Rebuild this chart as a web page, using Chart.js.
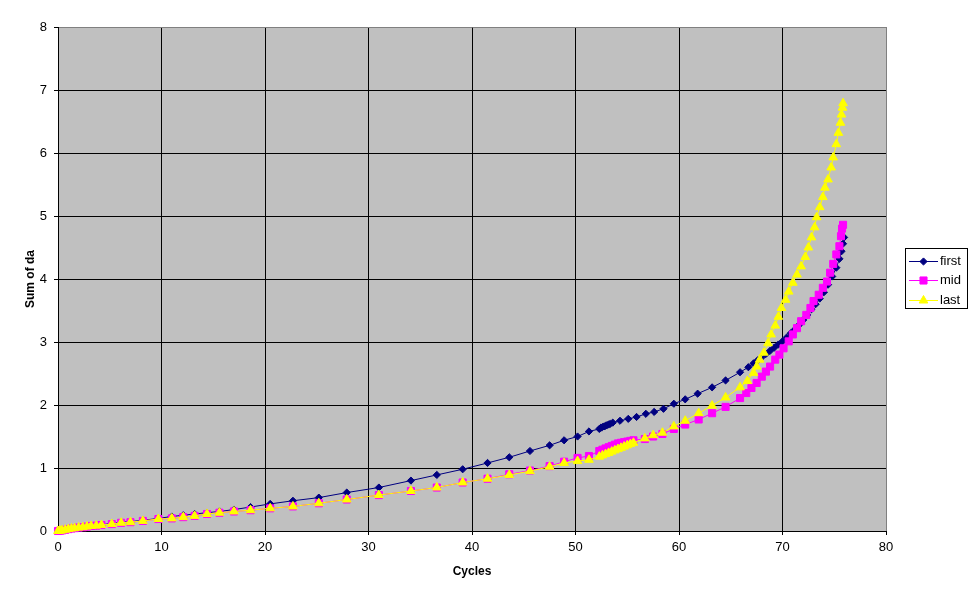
<!DOCTYPE html>
<html>
<head>
<meta charset="utf-8">
<script src="https://cdn.jsdelivr.net/npm/chart.js@4/dist/chart.umd.min.js"></script>
<style>
  html, body { margin: 0; padding: 0; background: #fff; }
</style>
</head>
<body>
<canvas id="chart" width="977" height="600"></canvas>
<script>
// axis setup
const xMax = 80, xStep = 10;
const yMax = 8, yStep = 1;
const seriesNames = ["first", "mid", "last"];

// first (navy diamonds)
const firstCycles = [0, 0.2, 0.4, 0.7, 1.0, 1.3, 1.6, 2.0, 2.4, 2.8, 3.2, 3.7, 4.2, 5.2, 6.1, 7.0, 8.2, 9.7,
  11.0, 12.1, 13.2, 14.4, 15.6, 17.0, 18.6, 20.5, 22.7, 25.2, 27.9, 31.0, 34.1, 36.6, 39.1, 41.5, 43.6,
  45.6, 47.5, 48.9, 50.2, 51.3, 52.3, 52.45, 52.6, 52.75, 52.9, 53.05, 53.2, 53.35, 53.6, 54.3, 55.1,
  55.9, 56.8, 57.6, 58.5, 59.5, 60.6, 61.8, 63.2, 64.5, 65.9, 66.7, 67.2, 67.6, 68.0, 68.4, 68.8, 69.2,
  69.6, 70.0, 70.4, 70.8, 71.2, 71.6, 72.0, 72.4, 72.8, 73.2, 73.6, 74.0, 74.4, 74.8, 75.2, 75.5, 75.7,
  75.85, 75.95];
const firstDa = [0, 0.005, 0.01, 0.02, 0.03, 0.035, 0.04, 0.05, 0.06, 0.07, 0.08, 0.09, 0.10, 0.12, 0.14, 0.15, 0.17, 0.20,
  0.23, 0.25, 0.27, 0.29, 0.31, 0.34, 0.38, 0.43, 0.48, 0.53, 0.61, 0.69, 0.80, 0.89, 0.98, 1.08, 1.17,
  1.27, 1.36, 1.44, 1.50, 1.58, 1.62, 1.64, 1.65, 1.66, 1.67, 1.68, 1.69, 1.70, 1.72, 1.75, 1.78,
  1.81, 1.86, 1.89, 1.94, 2.02, 2.09, 2.18, 2.28, 2.39, 2.52, 2.60, 2.66, 2.71, 2.76, 2.81, 2.86, 2.91,
  2.96, 3.01, 3.07, 3.14, 3.20, 3.27, 3.35, 3.43, 3.52, 3.60, 3.69, 3.79, 3.91, 4.04, 4.18, 4.32, 4.44,
  4.56, 4.66];

// mid (magenta squares)
const midCycles = [0, 0.2, 0.4, 0.7, 1.0, 1.3, 1.6, 2.0, 2.4, 2.8, 3.2, 3.7, 4.2, 5.2, 6.1, 7.0, 8.2, 9.7,
  11.0, 12.1, 13.2, 14.4, 15.6, 17.0, 18.6, 20.5, 22.7, 25.2, 27.9, 31.0, 34.1, 36.6, 39.1, 41.5, 43.6,
  45.6, 47.5, 48.9, 50.2, 51.3, 52.3, 52.6, 52.9, 53.2, 53.5, 53.8, 54.1, 54.4, 54.7, 55.0, 55.3, 55.6,
  56.7, 57.5, 58.4, 59.5, 60.6, 61.9, 63.2, 64.5, 65.9, 66.5, 67.0, 67.5, 68.0, 68.4, 68.8, 69.3, 69.7,
  70.1, 70.6, 71.0, 71.4, 71.8, 72.3, 72.7, 73.0, 73.5, 73.9, 74.3, 74.6, 74.9, 75.2, 75.5, 75.65, 75.75,
  75.85];
const midDa = [0, 0.005, 0.01, 0.02, 0.03, 0.04, 0.045, 0.055, 0.06, 0.07, 0.08, 0.085, 0.095, 0.11, 0.13, 0.14, 0.16, 0.19,
  0.20, 0.22, 0.24, 0.27, 0.29, 0.31, 0.33, 0.36, 0.39, 0.44, 0.50, 0.57, 0.635, 0.69, 0.77, 0.83, 0.90,
  0.96, 1.03, 1.10, 1.16, 1.19, 1.27, 1.29, 1.31, 1.33, 1.35, 1.37, 1.39, 1.40, 1.41, 1.42, 1.43, 1.44,
  1.46, 1.50, 1.54, 1.62, 1.69, 1.77, 1.87, 1.97, 2.11, 2.19, 2.27, 2.35, 2.45, 2.53, 2.61, 2.72, 2.80,
  2.90, 3.01, 3.12, 3.22, 3.33, 3.43, 3.54, 3.65, 3.75, 3.86, 3.96, 4.10, 4.24, 4.39, 4.52, 4.68, 4.80,
  4.86];

// last (yellow triangles)
const lastCycles = [0, 0.2, 0.4, 0.7, 1.0, 1.3, 1.6, 2.0, 2.4, 2.8, 3.2, 3.7, 4.2, 5.2, 6.1, 7.0, 8.2, 9.7,
  11.0, 12.1, 13.2, 14.4, 15.6, 17.0, 18.6, 20.5, 22.7, 25.2, 27.9, 31.0, 34.1, 36.6, 39.1, 41.5, 43.6,
  45.6, 47.5, 48.9, 50.2, 51.3, 52.3, 52.6, 52.9, 53.2, 53.5, 53.8, 54.1, 54.4, 54.7, 55.0, 55.3, 55.6,
  56.7, 57.5, 58.4, 59.5, 60.6, 61.9, 63.2, 64.5, 65.9, 66.6, 67.2, 67.5, 67.8, 68.2, 68.6, 68.9, 69.3,
  69.6, 69.9, 70.3, 70.6, 71.0, 71.4, 71.8, 72.2, 72.5, 72.8, 73.1, 73.3, 73.6, 73.9, 74.1, 74.4, 74.7,
  74.9, 75.2, 75.4, 75.6, 75.7, 75.8, 75.85];
const lastDa = [0, 0.005, 0.01, 0.02, 0.03, 0.04, 0.045, 0.055, 0.06, 0.07, 0.08, 0.085, 0.095, 0.11, 0.13, 0.14, 0.16, 0.19,
  0.20, 0.22, 0.24, 0.27, 0.29, 0.31, 0.33, 0.36, 0.39, 0.44, 0.50, 0.57, 0.635, 0.69, 0.77, 0.83, 0.89,
  0.95, 1.02, 1.08, 1.11, 1.13, 1.18, 1.20, 1.22, 1.24, 1.26, 1.28, 1.30, 1.32, 1.34, 1.36, 1.38, 1.40,
  1.47, 1.52, 1.56, 1.66, 1.75, 1.87, 1.99, 2.12, 2.28, 2.38, 2.51, 2.61, 2.72, 2.83, 2.98, 3.12, 3.26,
  3.40, 3.54, 3.67, 3.80, 3.94, 4.07, 4.20, 4.35, 4.50, 4.66, 4.82, 4.98, 5.14, 5.30, 5.45, 5.58, 5.77,
  5.93, 6.14, 6.32, 6.48, 6.61, 6.72, 6.79];

const FONT = "'Liberation Sans', Arial, sans-serif";
const toPoints = (xs, ys) => xs.map((x, i) => ({ x: x, y: ys[i] }));

function series(label, xs, ys, color, style, radius, order) {
  return {
    label: label,
    data: toPoints(xs, ys),
    showLine: true,
    borderColor: color,
    backgroundColor: color,
    borderWidth: 1,
    pointStyle: style,
    pointRadius: radius,
    pointHoverRadius: radius,
    pointBackgroundColor: color,
    pointBorderColor: color,
    pointBorderWidth: 1,
    tension: 0,
    clip: false,
    order: order
  };
}

// gray plot area
const plotBg = {
  id: "plotBg",
  beforeDraw(chart) {
    const { ctx, chartArea: a } = chart;
    ctx.save();
    ctx.fillStyle = "#fff";
    ctx.fillRect(0, 0, chart.width, chart.height);
    ctx.fillStyle = "#c0c0c0";
    ctx.fillRect(a.left, a.top, a.right - a.left, a.bottom - a.top);
    ctx.restore();
  }
};

// boxed legend on the right, like the spreadsheet one
const boxLegend = {
  id: "boxLegend",
  afterDraw(chart) {
    const ctx = chart.ctx;
    const bx = 905.5, by = 248.5, bw = 62, bh = 60;
    ctx.save();
    ctx.fillStyle = "#fff";
    ctx.fillRect(bx, by, bw, bh);
    ctx.strokeStyle = "#000";
    ctx.lineWidth = 1;
    ctx.strokeRect(bx, by, bw, bh);
    ctx.font = "13px " + FONT;
    ctx.textBaseline = "middle";
    ctx.textAlign = "left";
    chart.data.datasets.forEach((ds, i) => {
      const y = 261 + i * 19.3;
      ctx.strokeStyle = ds.borderColor;
      ctx.beginPath();
      ctx.moveTo(909, Math.round(y) + 0.5);
      ctx.lineTo(938, Math.round(y) + 0.5);
      ctx.stroke();
      ctx.fillStyle = ds.pointBackgroundColor;
      ctx.strokeStyle = ds.pointBorderColor;
      Chart.helpers.drawPoint(ctx, { pointStyle: ds.pointStyle, radius: ds.pointRadius, rotation: 0, borderWidth: 1 }, 923.5, Math.round(y) + 0.5);
      ctx.fillStyle = "#000";
      ctx.fillText(ds.label, 940, y + 0.5);
    });
    ctx.restore();
  }
};

const tickFont = { family: FONT, size: 13 };
const titleFont = { family: FONT, size: 12, weight: "bold" };

new Chart(document.getElementById("chart").getContext("2d"), {
  type: "scatter",
  data: {
    datasets: [
      series(seriesNames[0], firstCycles, firstDa, "#000080", "rectRot", 3.6, 3),
      series(seriesNames[1], midCycles, midDa, "#ff00ff", "rect", 5, 2),
      series(seriesNames[2], lastCycles, lastDa, "#ffff00", "triangle", 5, 1)
    ]
  },
  options: {
    responsive: false,
    animation: false,
    events: [],
    layout: { padding: { left: 0, right: 91, top: 27, bottom: 0 } },
    plugins: { legend: { display: false }, tooltip: { enabled: false } },
    scales: {
      x: {
        type: "linear",
        min: 0,
        max: xMax,
        ticks: { stepSize: xStep, font: tickFont, color: "#000", padding: 5, maxRotation: 0 },
        grid: {
          color: c => (c.tick && c.tick.value === xMax ? "#808080" : "#000"),
          tickColor: "#000",
          tickLength: 4,
          lineWidth: 1
        },
        border: { color: "#000" },
        title: { display: true, text: "Cycles", font: titleFont, color: "#000", padding: { top: 0, bottom: 21 } },
        afterFit: s => { s.height = 69; }
      },
      y: {
        type: "linear",
        min: 0,
        max: yMax,
        ticks: { stepSize: yStep, font: tickFont, color: "#000", padding: 7 },
        grid: {
          color: c => (c.tick && c.tick.value === yMax ? "#808080" : "#000"),
          tickColor: "#000",
          tickLength: 4,
          lineWidth: 1
        },
        border: { color: "#000" },
        title: { display: true, text: "Sum of da", font: titleFont, color: "#000", padding: { top: 23, bottom: 0 } },
        afterFit: s => { s.width = 58; }
      }
    }
  },
  plugins: [plotBg, boxLegend]
});
</script>
</body>
</html>
